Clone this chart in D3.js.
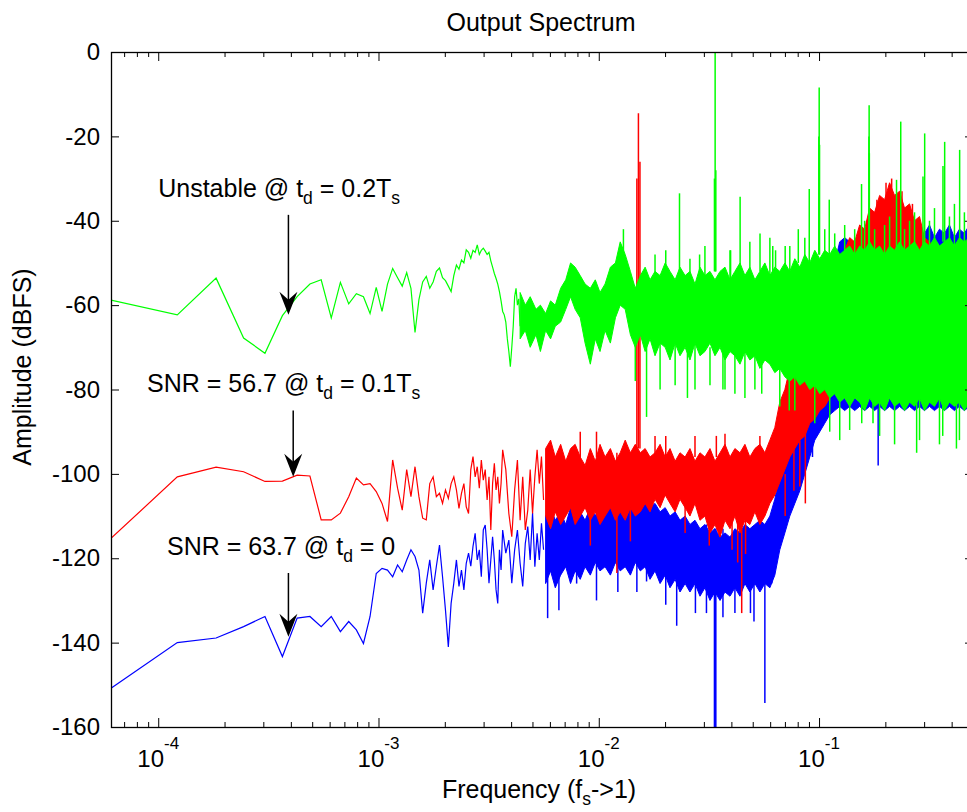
<!DOCTYPE html>
<html lang="en">
<head>
<meta charset="UTF-8">
<title>Output Spectrum</title>
<script src="https://cdnjs.cloudflare.com/ajax/libs/d3/7.8.5/d3.min.js"></script>
<style>
    body { margin: 0; background: #fff; overflow: hidden; }
    svg { display: block; font-family: Arial, "Liberation Sans", Helvetica, sans-serif; }
    text { white-space: pre; }
</style>
</head>
<body>
<svg width="967" height="812"></svg>
<script>
    // FFT length, bin k sits at f = k / nfft (fs -> 1)
    const nfft = 16384

    // low frequency part, one point per bin
    const greenLineBins = [1,2,3,4,5,6,7,8,9,10,11,12,13,14,15,16,17,18,19,20,21,22,23,24,25,26,27,28,29,30,
        31,32,33,34,35,36,37,38,39,40,41,42,43,44,45,46,47,48,49,50,51,52,53,54,55,56,57,58,59,60,
        61,62,63,64,65,66,67,68,69,70,71,72]
    const greenLineDb = [-58.8,-62.3,-53.6,-67.8,-71.4,-62.5,-58,-55,-54,-63,-54.6,-59.7,-57.3,-58,-62,-55.8,-61.5,-55,-51.3,-53.5,
        -55.5,-52.3,-56,-66.5,-58.7,-54.5,-53.2,-56,-54.5,-52,-51.2,-53.5,-54.2,-55.5,-56.8,-53,-50.5,-51.5,-49.3,-50,
        -46.9,-47.5,-48.9,-47,-47.5,-45.7,-48,-47,-46.5,-47.2,-48,-47.5,-49.5,-51,-52.5,-53.7,-55,-56.8,-59,-61.5,
        -62.3,-64,-68,-71,-74.6,-70,-65,-58,-56,-60,-58.5,-65]

    const rbLineBins = [1,2,3,4,5,6,7,8,9,10,11,12,13,14,15,16,17,18,19,20,21,22,23,24,25,26,27,28,29,30,
        31,32,33,34,35,36,37,38,39,40,41,42,43,44,45,46,47,48,49,50,51,52,53,54,55,56,57,58,59,60,
        62,64,66,68,70,72,74,76,78,80,82,84,86,88,90,92]
    const redLineDb = [-115.3,-100.7,-98.4,-99.5,-101.8,-101.7,-100.3,-100.5,-110.9,-110.9,-109.3,-105.4,-101,-102.6,-102.3,-104.2,-107,-111.3,-96.7,-103.4,
        -108.6,-99,-105.4,-98.3,-105.4,-110.5,-110.9,-102.3,-100.7,-105.4,-104.6,-107,-103.8,-105.8,-102.3,-100.7,-103.8,-108.2,-104.6,-102.3,
        -107.8,-109.4,-99,-95.9,-100.7,-98.3,-103.4,-96.7,-101.5,-99,-106.2,-100.7,-113.3,-102.3,-97.5,-103.8,-100.7,-107,-102.3,-94.3,
        -99,-109.4,-114.9,-103.8,-96.7,-111,-100.7,-113.3,-108.6,-99,-109.4,-100.7,-94.3,-102.3,-95.9,-106.2]
    const blueLineDb = [-150.8,-140,-138.9,-136.2,-133.8,-143.3,-134.2,-133.8,-136.2,-133.8,-137.4,-135,-137,-140.2,-133.8,-123.6,-122.4,-122.8,-124.4,-121.6,
        -123.2,-120.4,-118,-119.6,-122.8,-133,-125.9,-120.4,-127.5,-121.9,-116.9,-124.4,-132.3,-141,-130.7,-125.9,-120.4,-126.7,-122.8,-127.5,
        -121.2,-118.8,-121.9,-117.2,-114.1,-120.4,-118,-124.4,-113.3,-112.1,-118,-125.9,-120.4,-114.9,-120.4,-127.5,-130.7,-118,-122.8,-113.3,
        -118.8,-115.7,-125.9,-118,-113.3,-121.2,-126.7,-116.5,-112.5,-120.4,-109.3,-122,-114.1,-120.4,-111.7,-118]

    // dense part: upper / lower envelope of the bins, per column
    const bandBins = [72,76,80,85,89,94,99,104,110,116,122,128,135,142,150,158,166,175,185,195,
        205,216,228,240,253,266,280,295,311,328,345,364,383,404,425,448,472,497,524,552,
        582,613,646,680,717,755,795,838,883,930,980,1032,1087,1146,1207,1272,1340,1412,1487,1567,
        1651,1739,1832,1930,2034,2142,2257,2378,2505,2639,2781,2929,3086,3251,3425,3609,3802,4005,4220,4446,
        4684,4934,5198,5477,5770,6078,6404,6747,7108,7488,7889,8192]

    const greenHi = [-57,-60,-58,-61,-60,-62,-59,-60,-56,-54,-50,-51,-53,-55,-56,-54,-57,-55,-51,-50,
        -45,-48,-52,-56,-53,-51,-54,-52,-53,-50,-52,-54,-51,-53,-52,-55,-51,-53,-52,-54,
        -52,-51,-54,-52,-50,-53,-51,-54,-52,-50,-53,-51,-52,-50,-52,-49,-51,-48,-50,-47,
        -49,-47,-48,-46,-48,-47,-46,-48,-46,-47,-45,-47,-46,-48,-46,-47,-45,-47,-46,-45,
        -47,-45,-46,-44,-46,-45,-44,-46,-44,-45,-44,-45]
    const greenLo = [-68,-66,-70,-67,-71,-66,-68,-65,-64,-61,-58,-61,-63,-69,-74,-68,-71,-66,-69,-63,
        -60,-61,-67,-70,-67,-71,-68,-72,-69,-70,-73,-69,-72,-70,-73,-69,-72,-71,-69,-72,
        -70,-73,-71,-72,-74,-71,-73,-72,-75,-73,-74,-76,-75,-77,-78,-77,-79,-78,-80,-79,
        -81,-80,-82,-81,-83,-82,-84,-82,-83,-85,-82,-84,-83,-85,-82,-84,-83,-85,-83,-84,
        -82,-85,-83,-84,-82,-85,-83,-84,-83,-85,-83,-84]

    const redHi = [null,null,null,null,null,-94,-92,-96,-93,-97,-94,-93,-96,-98,-94,-97,-93,-96,-94,-97,
        -95,-92,-95,-93,-95,-94,-96,-95,-93,-96,-94,-97,-95,-96,-94,-97,-95,-96,-94,-97,
        -95,-93,-96,-94,-95,-93,-96,-94,-93,-95,-92,-89,-83,-80,-75,-76,-73,-75,-72,-73,
        -70,-69,-66,-60,-52,-47,-44,-45,-41,-42,-37,-38,-34,-35,-31,-34,-33,-37,-36,-40,
        -39,-44,-45,-47,-46,-48,-47,-48,-47,-48,-47,-48]
    const redLo = [null,null,null,null,null,-110,-113,-109,-112,-110,-108,-112,-110,-108,-111,-109,-112,-110,-108,-111,
        -109,-111,-108,-110,-109,-107,-109,-106,-108,-105,-107,-109,-106,-108,-110,-107,-111,-110,-114,-112,
        -115,-111,-113,-110,-114,-111,-112,-109,-112,-110,-107,-105,-102,-99,-96,-94,-92,-91,-88,-87,
        -85,-84,-82,-80,-80,-80,-80,-80,-80,-80,-80,-80,-80,-80,-80,-80,-80,-80,-80,-80,
        -80,-80,-80,-80,-80,-80,-80,-80,-80,-80,-80,-80]

    const blueHi = [null,null,null,null,null,-110,-108,-111,-109,-112,-108,-110,-109,-111,-108,-110,-107,-109,-106,-108,
        -107,-106,-108,-107,-106,-107,-108,-107,-109,-108,-110,-109,-111,-110,-112,-111,-113,-112,-114,-113,
        -115,-114,-115,-113,-114,-112,-113,-112,-111,-112,-110,-106,-100,-95,-90,-86,-82,-78,-74,-70,
        -66,-60,-55,-50,-45,-44,-45,-47,-48,-47,-48,-47,-48,-47,-48,-47,-48,-47,-48,-47,
        -46,-43,-41,-44,-42,-43,-41,-44,-42,-43,-41,-44]
    const blueLo = [null,null,null,null,null,-126,-123,-127,-124,-122,-126,-123,-125,-122,-124,-121,-123,-122,-124,-121,
        -123,-122,-124,-121,-123,-122,-125,-123,-126,-124,-127,-125,-128,-126,-128,-126,-129,-127,-130,-128,
        -130,-128,-129,-127,-129,-126,-128,-126,-128,-126,-127,-124,-118,-114,-110,-107,-104,-100,-96,-92,
        -90,-88,-86,-85,-84,-85,-84,-85,-84,-85,-84,-85,-84,-85,-84,-85,-84,-85,-84,-85,
        -84,-85,-84,-85,-84,-85,-84,-85,-84,-85,-84,-85]

    // single bins standing out of the band (tones, harmonics, nulls)
    const greenSpikeBins = [212,381,549,553,557,718,884,1040,1150,1319,1479,1635,1641,1647,1823,2555,2760,2766,2772,3683,
        3849,4856,4943,5985,6092,7125,330,470,650,1010,
        295,425,497,646,795,980,1207,1412,1739,1930,2142,2378,2639,2929,3251,3425,4005,4220,4446,5198,
        5477,6404,6747,7488,7889,
        270,414,600,900,1200,2257,2560,2880,4545,5970,6890,
        240,311,364,448,524,613,680,755,838,1087,1272,1567,1832,2034,3086,3609,4684,5770,7108]
    const greenSpikeTop = [-42,-33.5,-30,0,-28,-34.3,-43,-47,-46,-42,-32.5,-20,-8.4,-22,-35,-31.3,-20,-12.6,-24,-30.3,
        -16.5,-29.5,-19.3,-27,-21.3,-23.2,-47,-48,-47,-46,
        -48,-49,-46,-47,-45,-44,-46,-44,-42,-43,-41,-42,-40,-42,-41,-39,-42,-40,-38,-40,
        -37,-39,-36,-38,-40,
        -55,-60,-60,-60,-65,-70,-70,-70,-70,-70,-70,
        -65,-68,-66,-68,-70,-68,-70,-70,-70,-74,-75,-78,-78,-80,-80,-80,-80,-80,-80]
    const greenSpikeBottom = [-55,-52,-52,-52,-52,-52,-52,-55,-52,-50,-50,-48,-48,-48,-48,-47,-47,-47,-47,-47,
        -46,-46,-46,-45,-45,-45,-55,-55,-55,-54,
        -55,-55,-55,-55,-54,-54,-53,-52,-50,-50,-49,-49,-48,-49,-48,-48,-48,-48,-47,-47,
        -47,-46,-46,-46,-46,
        -86.5,-82,-80,-81,-85,-89.6,-88,-88,-95,-91,-94,
        -78,-80,-79,-80,-79,-80,-81,-82,-80,-84,-85,-88,-90,-92,-91,-93,-92,-93,-92]

    const redSpikeBins = [244,248,252,198,730,1420,1260,160,330,560,
        700,660,760,520,150,228,404,1150,1340,135,295,448,613,883,
        2700,3000,3300,3500,3900,4350]
    const redSpikeTop = [-30,-14.5,-26,-95,-110,-90,-92,-90,-91,-91,
        -110,-108,-110,-108,-108,-108,-106,-100,-92,-90,-91,-91,-90.5,-91,
        -40,-35,-31,-30,-33,-36]
    const redSpikeBottom = [-94,-94,-94,-123.5,-133,-107,-104,-96,-96,-96,
        -121,-118,-119,-117,-117,-116,-114,-110,-103,-96,-96,-96,-96,-96,
        -50,-45,-45,-45,-45,-45]

    const blueSpikeBins = [549,553,557,930,370,505,270,244,130,108,96,3040,1530,
        160,200,330,450,600,680,830,1000,800]
    const blueSpikeTop = [-113,-113,-113,-112,-110,-112,-108,-108,-110,-110,-110,-80,-80,
        -110,-110,-112,-112,-113,-114,-113,-110,-113]
    const blueSpikeBottom = [-160,-160,-160,-154.3,-136,-133,-125.5,-128,-126,-132.3,-134.2,-98,-96,
        -130,-128,-131,-133,-134,-133,-135,-126,-133]

    const yTicks = [-160,-140,-120,-100,-80,-60,-40,-20,0]
    const xMajor = [1e-4,1e-3,1e-2,1e-1]
    const xMajorExp = ['-4','-3','-2','-1']

    let svg = d3.select('svg')

    let x = d3.scaleLog().domain([1 / nfft, 0.5]).range([111, 973])
    let y = d3.scaleLinear().domain([-160, 0]).range([727, 52])

    svg.append('clipPath').attr('id', 'plotClip')
        .append('rect').attr('x', 111).attr('y', 52).attr('width', 862).attr('height', 675)

    let plot = svg.append('g').attr('clip-path', 'url(#plotClip)')

    function drawSeries(color, lineBins, lineDb, hi, lo, spikeBins, spikeTop, spikeBottom) {
        let g = plot.append('g')
        let pts = lineBins.map((k, i) => ({f: k / nfft, v: lineDb[i]}))
        g.append('path').datum(pts)
            .attr('fill', 'none').attr('stroke', color).attr('stroke-width', 1.2)
            .attr('d', d3.line().x(d => x(d.f)).y(d => y(d.v)))

        let band = bandBins.map((k, i) => ({f: k / nfft, hi: hi[i], lo: lo[i]}))
        g.append('path').datum(band)
            .attr('fill', color).attr('stroke', color).attr('stroke-width', 1)
            .attr('d', d3.area().defined(d => d.hi != null)
                .x(d => x(d.f)).y0(d => y(d.lo)).y1(d => y(d.hi)))

        g.selectAll('.spike')
            .data(spikeBins.map((k, i) => ({f: k / nfft, top: spikeTop[i], bottom: spikeBottom[i]})))
            .enter().append('line')
            .attr('x1', d => x(d.f)).attr('x2', d => x(d.f))
            .attr('y1', d => y(d.top)).attr('y2', d => y(d.bottom))
            .attr('stroke', color).attr('stroke-width', 1.5)
    }

    // matlab draw order: blue, red, green on top
    drawSeries('#0000ff', rbLineBins, blueLineDb, blueHi, blueLo, blueSpikeBins, blueSpikeTop, blueSpikeBottom)
    drawSeries('#ff0000', rbLineBins, redLineDb, redHi, redLo, redSpikeBins, redSpikeTop, redSpikeBottom)
    drawSeries('#00ff00', greenLineBins, greenLineDb, greenHi, greenLo, greenSpikeBins, greenSpikeTop, greenSpikeBottom)

    // ---- axes box with inward ticks
    let xMinor = []
    for (let d = 1e-5; d < 1; d *= 10)
        for (let m = 2; m <= 9; m++)
            if (d * m > 1 / nfft && d * m < 0.5) xMinor.push(d * m)

    function noDomain(g) { g.select('.domain').remove() }

    svg.append('g').attr('transform', 'translate(0,727)')
        .call(d3.axisBottom(x).tickValues(xMajor).tickSize(-9).tickFormat(''))
        .call(noDomain)
    svg.append('g').attr('transform', 'translate(0,727)')
        .call(d3.axisBottom(x).tickValues(xMinor).tickSize(-5).tickFormat(''))
        .call(noDomain)
    svg.append('g').attr('transform', 'translate(0,52)')
        .call(d3.axisTop(x).tickValues(xMajor).tickSize(-9).tickFormat(''))
        .call(noDomain)
    svg.append('g').attr('transform', 'translate(0,52)')
        .call(d3.axisTop(x).tickValues(xMinor).tickSize(-5).tickFormat(''))
        .call(noDomain)

    svg.append('g').attr('transform', 'translate(111,0)')
        .call(d3.axisLeft(y).tickValues(yTicks).tickSize(-8).tickPadding(11).tickFormat(d => String(d)))
        .call(noDomain)
        .call(g => g.selectAll('text').attr('font-size', 24).attr('font-family', null).attr('fill', '#000'))
    svg.append('g').attr('transform', 'translate(973,0)')
        .call(d3.axisRight(y).tickValues(yTicks).tickSize(-8).tickFormat(''))
        .call(noDomain)

    svg.append('rect')
        .attr('x', 111.5).attr('y', 52.5).attr('width', 861).attr('height', 675)
        .attr('fill', 'none').attr('stroke', '#000').attr('stroke-width', 1.3)

    // x tick labels 10^n
    let xl = svg.append('g').attr('font-size', 24)
    xMajor.forEach((v, i) => {
        let t = xl.append('text').attr('x', x(v)).attr('y', 767).attr('text-anchor', 'middle')
        t.append('tspan').text('10')
        t.append('tspan').attr('font-size', 17).attr('dy', -18).text(xMajorExp[i])
    })

    // rich text helper: parts [text, isSub]
    function richText(g, px, py, parts, size) {
        let t = g.append('text').attr('x', px).attr('y', py).attr('font-size', size)
        let shifted = false
        parts.forEach(p => {
            let s = t.append('tspan').text(p[0])
            if (p[1]) { s.attr('font-size', size * 0.7).attr('dy', 7); shifted = true }
            else if (shifted) { s.attr('dy', -7); shifted = false }
        })
        return t
    }

    svg.append('text').attr('x', 541).attr('y', 31).attr('text-anchor', 'middle')
        .attr('font-size', 25).text('Output Spectrum')

    richText(svg, 539, 798, [['Frequency (f'], ['s', true], ['->1)']], 25)
        .attr('text-anchor', 'middle')

    svg.append('text').attr('transform', 'translate(31,367) rotate(-90)')
        .attr('text-anchor', 'middle').attr('font-size', 25).text('Amplitude (dBFS)')

    // annotations: text and arrow in data coordinates
    const notes = [
        {f: 1.0e-4, v: -34.4, parts: [['Unstable @ t'], ['d', true], [' = 0.2T'], ['s', true]],
         af: 3.9e-4, from: -38.6, to: -62.3},
        {f: 8.9e-5, v: -80.6, parts: [['SNR = 56.7 @ t'], ['d', true], [' = 0.1T'], ['s', true]],
         af: 4.1e-4, from: -85, to: -100.7},
        {f: 1.096e-4, v: -119.2, parts: [['SNR = 63.7 @ t'], ['d', true], [' = 0']],
         af: 3.9e-4, from: -123.5, to: -138.6}
    ]

    let ann = svg.append('g')
    notes.forEach(n => {
        richText(ann, x(n.f), y(n.v), n.parts, 25)
        let ax = x(n.af), y0 = y(n.from), y1 = y(n.to)
        ann.append('line').attr('x1', ax).attr('x2', ax).attr('y1', y0).attr('y2', y1 - 10)
            .attr('stroke', '#000').attr('stroke-width', 1.5)
        ann.append('path')
            .attr('d', `M${ax},${y1} L${ax - 9},${y1 - 23} L${ax},${y1 - 15} L${ax + 9},${y1 - 23} Z`)
            .attr('fill', '#000')
    })
</script>
</body>
</html>
